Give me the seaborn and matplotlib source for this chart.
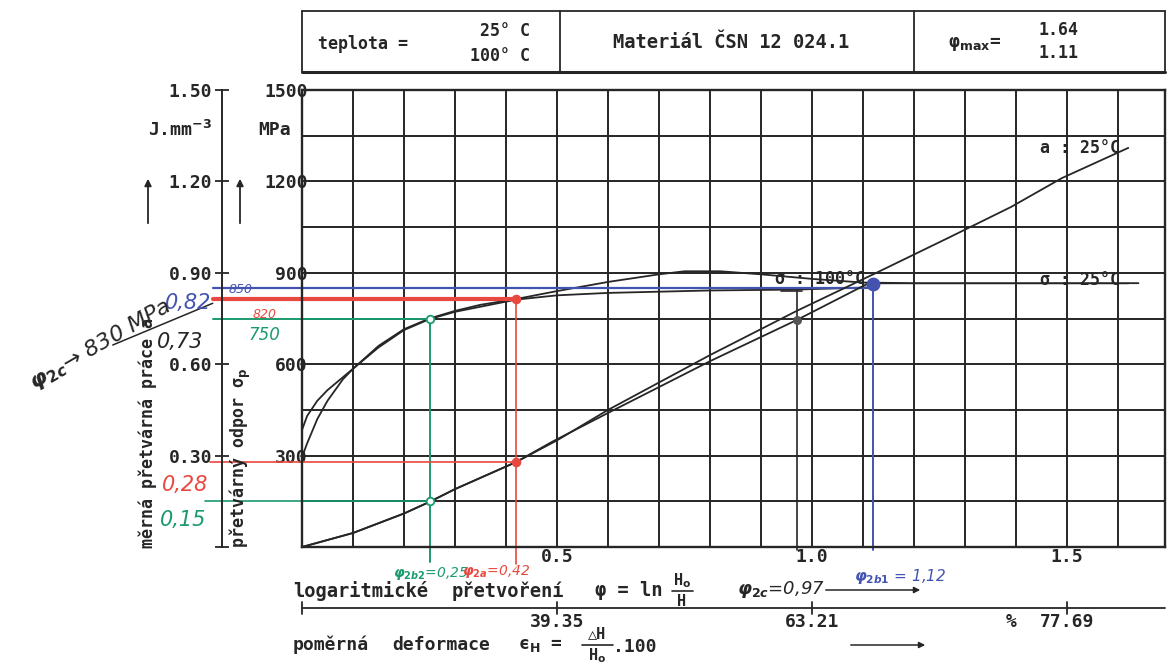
import matplotlib
matplotlib.use("Agg")
import matplotlib.pyplot as plt
import seaborn as sns
import numpy as np

# --- data ------------------------------------------------------------
# flow stress sigma_p [MPa] vs. log strain phi
phi_s25 = [0.0, 0.01, 0.03, 0.05, 0.08, 0.10, 0.15, 0.20, 0.25, 0.30, 0.35,
           0.42, 0.50, 0.60, 0.70, 0.75, 0.82, 0.90, 1.00, 1.10, 1.20, 1.40, 1.64]
sig_s25 = [295, 340, 420, 480, 550, 585, 660, 715, 750, 775, 795,
           814, 840, 870, 895, 905, 905, 895, 880, 868, 866, 866, 866]
phi_s100 = [0.0, 0.01, 0.03, 0.05, 0.10, 0.15, 0.20, 0.25, 0.30, 0.42, 0.50, 0.60,
            0.80, 0.97, 1.11]
sig_s100 = [384, 430, 480, 515, 585, 655, 712, 748, 772, 812, 826, 834,
            842, 845, 852]

# specific deformation work a [J/mm3] vs. phi
phi_a25 = [0.0, 0.10, 0.20, 0.25, 0.30, 0.42, 0.50, 0.60, 0.70, 0.80, 0.97,
           1.12, 1.27, 1.39, 1.49, 1.62]
a_25 = [0.0, 0.046, 0.11, 0.148, 0.19, 0.279, 0.35, 0.45, 0.54, 0.63, 0.775,
        0.895, 1.017, 1.116, 1.211, 1.31]
phi_a100 = [0.0, 0.10, 0.20, 0.25, 0.30, 0.42, 0.49, 0.60, 0.70, 0.80, 0.97, 1.11]
a_100 = [0.0, 0.046, 0.11, 0.148, 0.19, 0.279, 0.345, 0.44, 0.525, 0.61, 0.745, 0.865]

# read-off points (hand annotations)
phi_read = [0.25, 0.42, 1.12, 0.97]
sig_read = [750, 814, 850, 840]
a_read = [0.15, 0.28, 0.863, 0.745]

# tick labels
x_ticks = [0.5, 1.0, 1.5]
x_labels = ["0.5", "1.0", "1.5"]
sig_ticks = [300, 600, 900, 1200, 1500]
a_ticks = [0.30, 0.60, 0.90, 1.20, 1.50]
a_labels = ["0.30", "0.60", "0.90", "1.20", "1.50"]
eps_ticks = [0.0, 0.5, 1.0, 1.5]
eps_labels = ["", "39.35", "63.21", "77.69"]

# --- figure -----------------------------------------------------------
W, H = 1168, 664
INK = "#262626"
BLUE, RED, GREEN = "#4453b0", "#e8483f", "#1b9a6c"

sns.set_theme(style="white")
plt.rcParams["font.family"] = ["DejaVu Sans Mono", "DejaVu Sans"]
plt.rcParams["font.weight"] = "bold"
plt.rcParams["mathtext.fontset"] = "dejavusans"


def fx(px):
    return px / W


def fy(py):
    return 1 - py / H


def mpa(py):
    # pixel row -> MPa on the main axis (for marks outside the plot area)
    return (547 - py) * 1500 / 457


fig = plt.figure(figsize=(W / 100, H / 100), dpi=100)
ax = fig.add_axes([fx(302), fy(547), (1165 - 302) / W, (547 - 90) / H])
ax.set_xlim(0, 1.692)
ax.set_ylim(0, 1500)

# grid every 0.1 / 150 MPa
grid_x = np.round(np.arange(0, 1.7, 0.1), 1)
grid_y = np.arange(0, 1501, 150)
ax.set_xticks(grid_x)
ax.set_xticklabels([x_labels[x_ticks.index(t)] if t in x_ticks else "" for t in grid_x],
                   fontsize=13)
ax.set_yticks(grid_y)
ax.set_yticklabels([str(int(t)) if int(t) in sig_ticks else "" for t in grid_y], fontsize=13)
ax.grid(True, color=INK, lw=1.4)
ax.tick_params(axis="x", length=0, pad=1, colors=INK)
ax.tick_params(axis="y", length=0, pad=-4, colors=INK)
for s in ax.spines.values():
    s.set_color(INK)
    s.set_linewidth(1.7)

# energy axis on the far left
ax2 = ax.twinx()
ax2.set_ylim(0, 1.5)
ax2.yaxis.tick_left()
ax2.spines["left"].set_position(("axes", -80 / 863))
for side in ["right", "top", "bottom"]:
    ax2.spines[side].set_visible(False)
ax2.spines["left"].set_color(INK)
ax2.spines["left"].set_linewidth(1.4)
ax2.set_yticks([0.0] + a_ticks)
ax2.set_yticklabels([""] + a_labels, fontsize=13)
ax2.tick_params(axis="y", direction="inout", length=10, width=1.3, pad=2, colors=INK)
ax2.grid(False)

# curves
line_kw = dict(color=INK, lw=1.3, sort=False, estimator=None)
sns.lineplot(x=phi_s25, y=sig_s25, ax=ax, **line_kw)
sns.lineplot(x=phi_s100, y=sig_s100, ax=ax, **line_kw)
sns.lineplot(x=phi_a25, y=a_25, ax=ax2, **line_kw)
sns.lineplot(x=phi_a100, y=a_100, ax=ax2, **line_kw)

# hand-drawn read-off lines
left = -0.175
ax.plot([left, phi_read[0]], [sig_read[0], sig_read[0]], color=GREEN, lw=1.4, clip_on=False)
ax.plot([phi_read[0], phi_read[0]], [sig_read[0], mpa(562)], color=GREEN, lw=1.4, clip_on=False)
ax.plot([-0.19, phi_read[0]], [a_read[0] * 1000, a_read[0] * 1000], color=GREEN, lw=1.2,
        clip_on=False)
ax.plot([left, phi_read[1]], [sig_read[1], sig_read[1]], color=RED, lw=3.0, clip_on=False)
ax.plot([phi_read[1], phi_read[1]], [sig_read[1], mpa(564)], color=RED, lw=1.2, clip_on=False)
ax.plot([-0.18, phi_read[1]], [a_read[1] * 1000, a_read[1] * 1000], color=RED, lw=1.2,
        clip_on=False)
ax.plot([left, phi_read[2]], [sig_read[2], sig_read[2]], color=BLUE, lw=1.6, clip_on=False)
ax.plot([phi_read[2], phi_read[2]], [a_read[2] * 1000, mpa(550)], color=BLUE, lw=1.4,
        clip_on=False)
ax.plot([phi_read[3], phi_read[3]], [sig_read[3], mpa(550)], color=INK, lw=1.2, clip_on=False)
ax.plot([0.94, 0.98], [sig_read[3], sig_read[3]], color=INK, lw=1.2)
ax.plot([-0.371, -0.175], [663, 800], color=INK, lw=1.1, clip_on=False)

ax.scatter(phi_read[1:2], sig_read[1:2], s=35, color=RED, zorder=5)
ax.scatter(phi_read[:1], sig_read[:1], s=30, facecolor="white", edgecolor=GREEN, lw=1.3, zorder=5)
ax2.scatter(phi_read[:1], a_read[:1], s=30, facecolor="white", edgecolor=GREEN, lw=1.3, zorder=5)
ax2.scatter(phi_read[1:2], a_read[1:2], s=35, color=RED, zorder=5)
ax2.scatter(phi_read[2:3], a_read[2:3], s=80, color=BLUE, zorder=5)
ax2.scatter(phi_read[3:], a_read[3:], s=30, color="#555555", zorder=5)

# printed curve labels (the curve ends run through them on the original)
ax.plot([1.11, 1.62], [866, 866], color=INK, lw=1.0)
ax.text(1.015, 880, "σ : 100°C", fontsize=12, color=INK, ha="center", va="center")
ax.text(1.525, 878, "σ : 25°C", fontsize=12, color=INK, ha="center", va="center")
ax.text(1.525, 1310, "a : 25°C", fontsize=12, color=INK, ha="center", va="center")

# axis captions
fig.text(fx(212), fy(130), "J.mm$^{-3}$", fontsize=13, color=INK, ha="right", va="center")
fig.text(fx(258), fy(130), "MPa", fontsize=13, color=INK, ha="left", va="center")
for xa in [148, 240]:
    ax.annotate("", xy=(xa, H - 176), xytext=(xa, H - 226), xycoords="figure pixels",
                textcoords="figure pixels",
                arrowprops=dict(arrowstyle="-|>", lw=1.3, color=INK, mutation_scale=10))
fig.text(fx(148), fy(548), "měrná přetvárná práce a", rotation=90, fontsize=12, color=INK,
         ha="center", va="bottom")
fig.text(fx(240), fy(548), "přetvárný odpor σ$_\\mathrm{p}$", rotation=90, fontsize=12,
         color=INK, ha="center", va="bottom")

# bottom: log strain caption
fig.text(fx(293), fy(591), "logaritmické", fontsize=13.5, color=INK, va="center")
fig.text(fx(452), fy(591), "přetvoření", fontsize=13.5, color=INK, va="center")
fig.text(fx(595), fy(591), "φ = ln", fontsize=13.5, color=INK, va="center")
fig.text(fx(682), fy(581), "H$_\\mathrm{o}$", fontsize=11, color=INK, ha="center", va="center")
fig.text(fx(682), fy(601), "H", fontsize=11, color=INK, ha="center", va="center")
fig.add_artist(plt.Line2D([fx(672), fx(693)], [fy(591), fy(591)], color=INK, lw=1.2))
ax.annotate("", xy=(923, H - 590), xytext=(823, H - 590), xycoords="figure pixels",
            textcoords="figure pixels",
            arrowprops=dict(arrowstyle="-|>", lw=1.1, color=INK, mutation_scale=9))

# relative deformation scale, drawn in the phi units of the main axis
ax.plot([0, 1.692], [mpa(608), mpa(608)], color=INK, lw=1.3, clip_on=False)
for t, lab in zip(eps_ticks, eps_labels):
    ax.plot([t, t], [mpa(602), mpa(614)], color=INK, lw=1.3, clip_on=False)
    ax.text(t, mpa(622), lab, fontsize=13, color=INK, ha="center", va="center")
ax.text(1.39, mpa(622), "%", fontsize=13, color=INK, ha="center", va="center")

fig.text(fx(293), fy(645), "poměrná", fontsize=13, color=INK, va="center")
fig.text(fx(392), fy(645), "deformace", fontsize=13, color=INK, va="center")
fig.text(fx(518), fy(645), "ϵ$_\\mathrm{H}$ =", fontsize=13, color=INK, va="center")
fig.text(fx(597), fy(634), "△H", fontsize=11, color=INK, ha="center", va="center")
fig.text(fx(597), fy(656), "H$_\\mathrm{o}$", fontsize=11, color=INK, ha="center", va="center")
fig.add_artist(plt.Line2D([fx(582), fx(613)], [fy(645), fy(645)], color=INK, lw=1.2))
fig.text(fx(613), fy(647), ".100", fontsize=13, color=INK, va="center")
ax.annotate("", xy=(928, H - 645), xytext=(848, H - 645), xycoords="figure pixels",
            textcoords="figure pixels",
            arrowprops=dict(arrowstyle="-|>", lw=1.1, color=INK, mutation_scale=9))

# header box
for xs, ys, lw in [([302, 1165], [11, 11], 1.3), ([302, 1165], [72, 72], 2.2),
                   ([302, 302], [11, 72], 1.3), ([1165, 1165], [11, 72], 1.3),
                   ([560, 560], [11, 72], 1.3), ([914, 914], [11, 72], 1.3)]:
    fig.add_artist(plt.Line2D([fx(v) for v in xs], [fy(v) for v in ys], color=INK, lw=lw))
fig.text(fx(318), fy(44), "teplota =", fontsize=12, color=INK, va="center")
fig.text(fx(530), fy(31), "25° C", fontsize=12, color=INK, ha="right", va="center")
fig.text(fx(530), fy(56), "100° C", fontsize=12, color=INK, ha="right", va="center")
fig.text(fx(731), fy(42), "Materiál ČSN 12 024.1", fontsize=13.5, color=INK, ha="center",
         va="center")
fig.text(fx(948), fy(44), "φ$_\\mathrm{max}$=", fontsize=13, color=INK, va="center")
fig.text(fx(1058), fy(30), "1.64", fontsize=12, color=INK, ha="center", va="center")
fig.text(fx(1058), fy(53), "1.11", fontsize=12, color=INK, ha="center", va="center")

# handwritten notes
hand = dict(fontweight="normal", fontstyle="italic", family=["DejaVu Sans"])
fig.text(fx(188), fy(303), "0,82", fontsize=15, color=BLUE, ha="center", va="center", **hand)
fig.text(fx(241), fy(289), "850", fontsize=9, color=BLUE, ha="center", va="center", **hand)
fig.text(fx(265), fy(315), "820", fontsize=9, color=RED, ha="center", va="center", **hand)
fig.text(fx(264), fy(335), "750", fontsize=12, color=GREEN, ha="center", va="center", **hand)
fig.text(fx(180), fy(342), "0,73", fontsize=15, color=INK, ha="center", va="center", **hand)
fig.text(fx(100), fy(345), "$\\varphi_{2c}$→ 830 MPa", fontsize=16, color=INK, ha="center",
         va="center", rotation=30, **hand)
fig.text(fx(185), fy(485), "0,28", fontsize=15, color=RED, ha="center", va="center", **hand)
fig.text(fx(183), fy(520), "0,15", fontsize=15, color=GREEN, ha="center", va="center", **hand)
fig.text(fx(431), fy(574), "$\\varphi_{2b2}$=0,25", fontsize=10, color=GREEN, ha="center",
         va="center", **hand)
fig.text(fx(496), fy(572), "$\\varphi_{2a}$=0,42", fontsize=10, color=RED, ha="center",
         va="center", **hand)
fig.text(fx(781), fy(589), "$\\varphi_{2c}$=0,97", fontsize=13, color=INK, ha="center",
         va="center", **hand)
fig.text(fx(900), fy(577), "$\\varphi_{2b1}$ = 1,12", fontsize=11, color=BLUE, ha="center",
         va="center", **hand)

fig.savefig("out.png", dpi=100)
